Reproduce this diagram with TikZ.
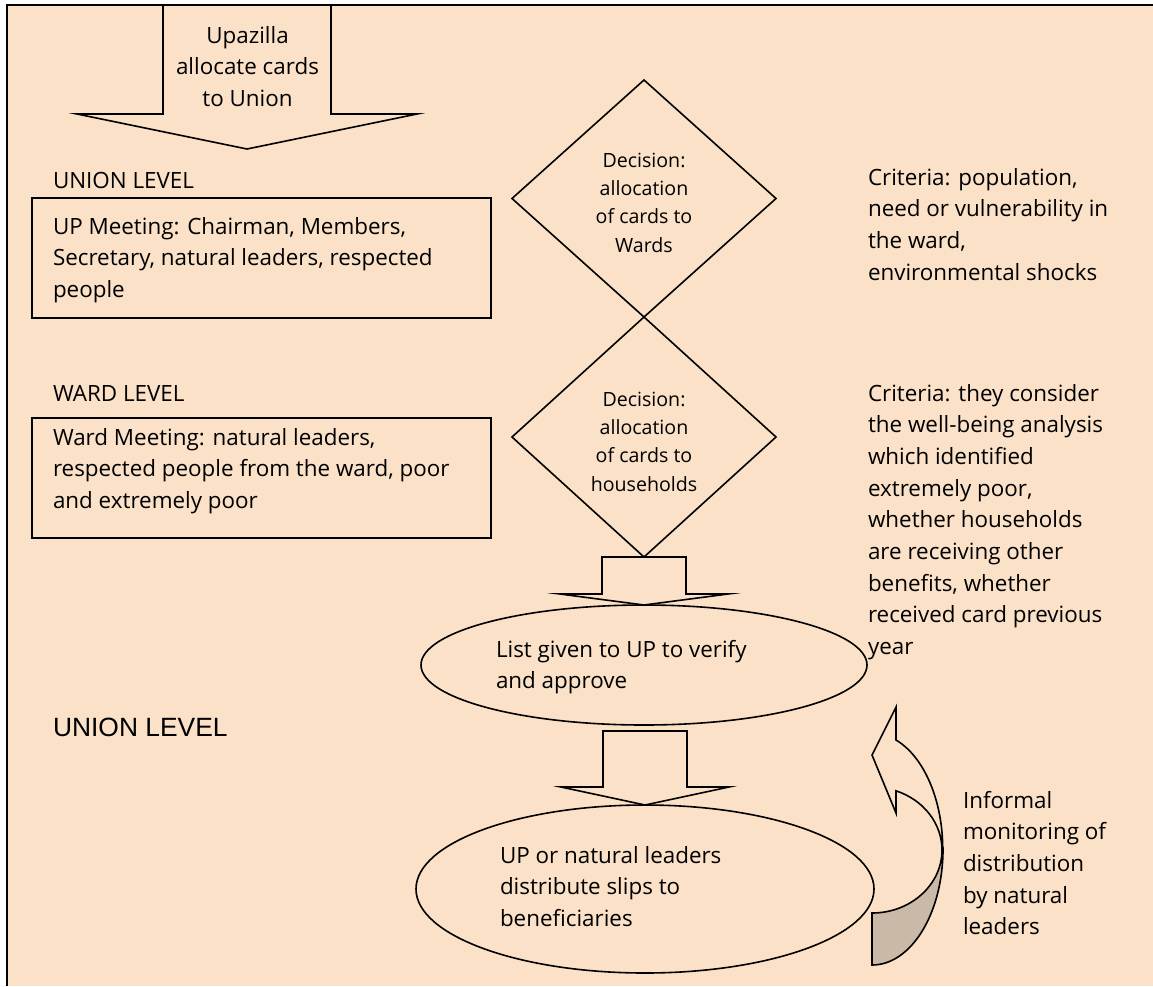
\documentclass[tikz,border=0pt]{standalone}
\usepackage{fontspec}
\setmainfont{Open Sans}
\newfontfamily\arialfont{Liberation Sans}
\usetikzlibrary{shapes.geometric,calc}
\definecolor{peach}{RGB}{250,225,200}
\definecolor{backside}{RGB}{201,185,166}
\newcommand{\txtsize}{\fontsize{22.4}{31.7}\selectfont}
\newcommand{\decsize}{\fontsize{19.6}{28.4}\selectfont}
% lines of text, baseline at the first line
\newcommand{\lns}[1]{\begin{tabular}[t]{@{}l@{}}#1\end{tabular}}
\newcommand{\lnc}[1]{\begin{tabular}[t]{@{}c@{}}#1\end{tabular}}
\tikzset{
  arrshaft/.store in=\arrshaft, arrwing/.store in=\arrwing, arrhead/.store in=\arrhead,
  arrshaft=42pt, arrwing=84pt, arrhead=11pt,
  fatarrow/.style={to path={let \p1=(\tikztostart), \p2=(\tikztotarget) in
    (\x1-\arrshaft,\y1) -- (\x1-\arrshaft,\y2+\arrhead) -- (\x1-\arrwing,\y2+\arrhead) -- (\x1,\y2)
    -- (\x1+\arrwing,\y2+\arrhead) -- (\x1+\arrshaft,\y2+\arrhead) -- (\x1+\arrshaft,\y1) -- cycle}}
}
\begin{document}
\begin{tikzpicture}[x=1pt,y=-1pt,
  every node/.style={font=\txtsize,inner sep=0pt,outer sep=0pt},
  shp/.style={draw,fill=peach,line width=1.6pt},
  blk/.style={draw,fill=peach,line width=1.6pt,line join=miter,miter limit=20},
  lbl/.style={anchor=base west}]
\useasboundingbox (0,0) rectangle (1153,986);
\fill[peach] (6,5) rectangle (1153,986);

% upazilla
\coordinate (upztop) at (247,5);
\coordinate (upztip) at (247,149);
\draw[blk,arrshaft=84pt,arrwing=170pt,arrhead=35pt,fatarrow] (upztop) to (upztip);
\node (upz) at (247.5,43) [anchor=base]{\lnc{Upazilla\\allocate cards\\to Union}};

% levels
\node (ulev) at (53,188) [lbl]{UNION LEVEL};
\node (wlev) at (53,401) [lbl]{WARD LEVEL};
\node (ulev2) at (53,736) [lbl,font=\arialfont\fontsize{26.4}{30}\selectfont]{UNION LEVEL};

% meetings
\node (upm) at (261.5,258) [shape=rectangle,shp,minimum width=459pt,minimum height=120pt]{};
\node (upmt) at (53,234) [lbl]{\lns{UP Meeting: Chairman, Members,\\Secretary, natural leaders, respected\\people}};
\node (wdm) at (261.5,478) [shape=rectangle,shp,minimum width=459pt,minimum height=120pt]{};
\node (wdmt) at (53,445) [lbl]{\lns{Ward Meeting: natural leaders,\\respected people from the ward, poor\\and extremely poor}};

% decisions
\node (dec1) at (644,198.5) [shape=diamond,shp,minimum width=264pt,minimum height=237pt]{};
\node (dec1t) at (644,167) [anchor=base,font=\decsize]{\lnc{Decision:\\allocation\\of cards to\\Wards}};
\node (dec2) at (644,437) [shape=diamond,shp,minimum width=264pt,minimum height=240pt]{};
\node (dec2t) at (644,406) [anchor=base,font=\decsize]{\lnc{Decision:\\allocation\\of cards to\\households}};

% criteria
\node (crit1) at (868,185) [lbl]{\lns{Criteria: population,\\need or vulnerability in\\the ward,\\environmental shocks}};
\node (crit2) at (868,401) [lbl]{\lns{Criteria: they consider\\the well-being analysis\\which identified\\extremely poor,\\whether households\\are receiving other\\benefits, whether\\received card previous\\year}};

% lists
\node (ell1) at (644,665) [shape=ellipse,shp,minimum width=446pt,minimum height=120pt]{};
\node (lst) at (496,657) [lbl]{\lns{List given to UP to verify\\and approve}};
\node (ell2) at (645,889) [shape=ellipse,shp,minimum width=458pt,minimum height=168pt]{};
\node (dst) at (500,863) [lbl]{\lns{UP or natural leaders\\distribute slips to\\beneficiaries}};

\draw[blk,fatarrow] (dec2.south) to (ell1.north);
\coordinate (gap) at ($(ell1.south -| ell2.north)+(0,6)$);
\draw[blk,arrhead=18pt,fatarrow] (gap) to (ell2.north);

% monitoring
\draw[shp,fill=backside] (942,850) arc[start angle=0,end angle=90,x radius=70,y radius=63] -- (872,965) arc[start angle=90,end angle=0,x radius=71,y radius=116] -- cycle;
\draw[shp,line join=miter] (896,707) -- (896,740) arc[start angle=-70,end angle=0,x radius=71,y radius=116] -- (942,850) arc[start angle=0,end angle=-70,x radius=70,y radius=63] -- (896,813) -- (872,755) -- cycle;
\node (inf) at (963,808) [lbl]{\lns{Informal\\monitoring of\\distribution\\by natural\\leaders}};

\draw[line width=2pt] (6.5,986) -- (6.5,5) -- (1153,5);
\end{tikzpicture}
\end{document}
